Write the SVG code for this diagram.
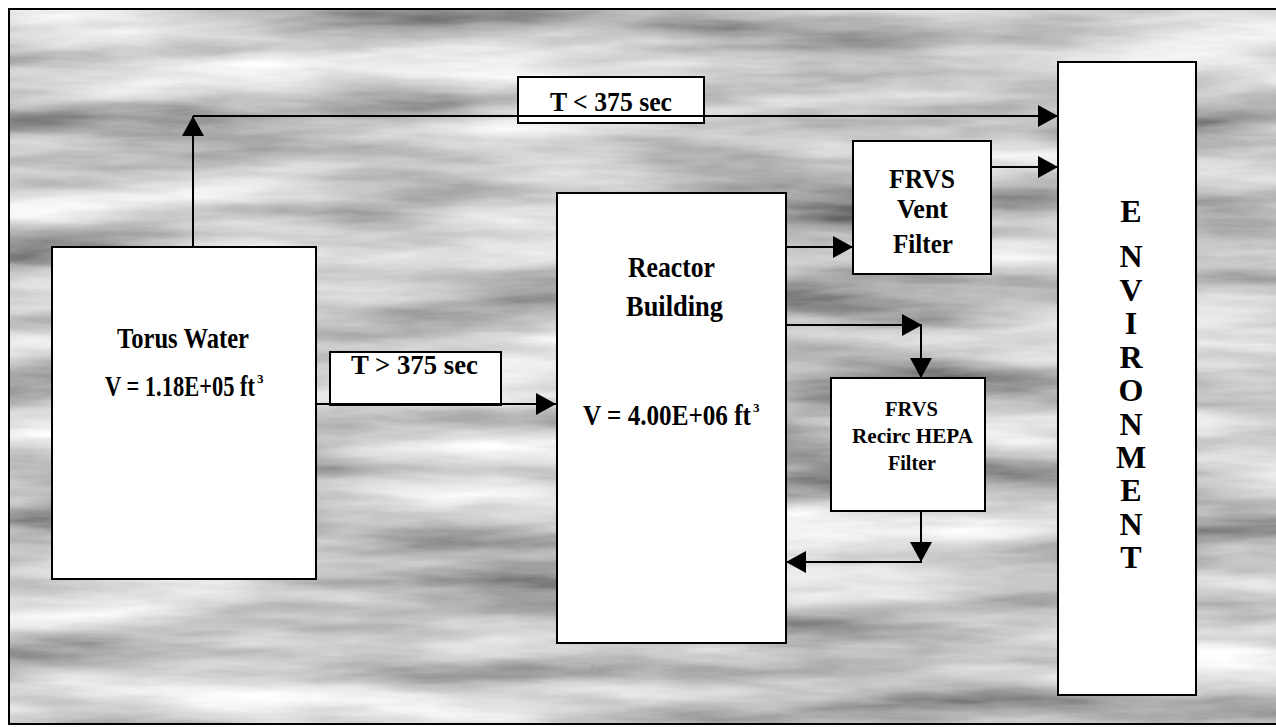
<svg xmlns="http://www.w3.org/2000/svg" width="1276" height="727" viewBox="0 0 1276 727">
<style>
.box{fill:#fff;stroke:#000;stroke-width:2}
.t{font-family:"Liberation Serif","Times New Roman",serif;font-weight:bold;fill:#000}
.edge{fill:none;stroke:#000;stroke-width:2}
.sup{font-size:13px}
</style>
<defs>
<filter id="tex" x="0" y="0" width="100%" height="100%">
<feTurbulence type="fractalNoise" baseFrequency="0.003 0.022" numOctaves="5" seed="11" result="n"/>
<feColorMatrix in="n" type="matrix" values="1.2 0 0 0 -0.02  1.2 0 0 0 -0.02  1.2 0 0 0 -0.02  0 0 0 0 1"/>
</filter>
<marker id="ah" viewBox="0 0 20 22" refX="20" refY="11" markerWidth="20" markerHeight="22" markerUnits="userSpaceOnUse" orient="auto">
<path d="M0,0 L20,11 L0,22 Z" fill="#000"/>
</marker>
</defs>
<rect width="1276" height="727" fill="#fff"/>
<rect x="9" y="9" width="1270" height="715" fill="#9a9a9a" filter="url(#tex)"/>
<rect x="9" y="9" width="1270" height="715" fill="none" stroke="#000" stroke-width="2"/>

<g id="label-lt">
<rect class="box" x="518" y="77" width="186" height="46"/>
<text class="t" x="550" y="111" font-size="28" textLength="122" lengthAdjust="spacingAndGlyphs">T &lt; 375 sec</text>
</g>
<g id="label-gt">
<rect class="box" x="330" y="352" width="171" height="53"/>
<text class="t" x="351" y="374" font-size="28" textLength="127" lengthAdjust="spacingAndGlyphs">T &gt; 375 sec</text>
</g>

<g id="connectors">
<path class="edge" d="M193,247 V116" marker-end="url(#ah)"/>
<path class="edge" d="M193,116 H1058" marker-end="url(#ah)"/>
<path class="edge" d="M308,404 H556" marker-end="url(#ah)"/>
<path class="edge" d="M786,247 H853" marker-end="url(#ah)"/>
<path class="edge" d="M991,167 H1058" marker-end="url(#ah)"/>
<path class="edge" d="M786,325 H922" marker-end="url(#ah)"/>
<path class="edge" d="M921,325 V378" marker-end="url(#ah)"/>
<path class="edge" d="M921,511 V562" marker-end="url(#ah)"/>
<path class="edge" d="M922,562 H786" marker-end="url(#ah)"/>
</g>

<g id="torus">
<rect class="box" x="52" y="247" width="264" height="332"/>
<text class="t" x="117" y="348" font-size="29" textLength="132" lengthAdjust="spacingAndGlyphs">Torus Water</text>
<text class="t" x="105" y="396" font-size="29"><tspan textLength="150" lengthAdjust="spacingAndGlyphs">V = 1.18E+05 ft</tspan><tspan class="sup" dx="2" dy="-13">3</tspan></text>
</g>

<g id="reactor">
<rect class="box" x="557" y="193" width="229" height="450"/>
<text class="t" x="628" y="277" font-size="29" textLength="87" lengthAdjust="spacingAndGlyphs">Reactor</text>
<text class="t" x="626" y="316" font-size="29" textLength="97" lengthAdjust="spacingAndGlyphs">Building</text>
<text class="t" x="583" y="425" font-size="29"><tspan textLength="168" lengthAdjust="spacingAndGlyphs">V = 4.00E+06 ft</tspan><tspan class="sup" dx="2" dy="-13">3</tspan></text>
</g>

<g id="vent-filter">
<rect class="box" x="853" y="141" width="138" height="133"/>
<text class="t" x="889" y="188" font-size="27" textLength="66" lengthAdjust="spacingAndGlyphs">FRVS</text>
<text class="t" x="897" y="218" font-size="27" textLength="51" lengthAdjust="spacingAndGlyphs">Vent</text>
<text class="t" x="893" y="253" font-size="27" textLength="60" lengthAdjust="spacingAndGlyphs">Filter</text>
</g>

<g id="hepa-filter">
<rect class="box" x="831" y="378" width="154" height="133"/>
<text class="t" x="885" y="416" font-size="21" textLength="53" lengthAdjust="spacingAndGlyphs">FRVS</text>
<text class="t" x="852" y="443" font-size="21" textLength="121" lengthAdjust="spacingAndGlyphs">Recirc HEPA</text>
<text class="t" x="888" y="470" font-size="21" textLength="48" lengthAdjust="spacingAndGlyphs">Filter</text>
</g>

<g id="environment">
<rect class="box" x="1058" y="62" width="138" height="633"/>
<g class="t" font-size="32" text-anchor="middle">
<text x="1131" y="222">E</text>
<text x="1131" y="267">N</text>
<text x="1131" y="301">V</text>
<text x="1131" y="334">I</text>
<text x="1131" y="368">R</text>
<text x="1131" y="401">O</text>
<text x="1131" y="435">N</text>
<text x="1131" y="468">M</text>
<text x="1131" y="501">E</text>
<text x="1131" y="535">N</text>
<text x="1131" y="568">T</text>
</g>
</g>
</svg>
